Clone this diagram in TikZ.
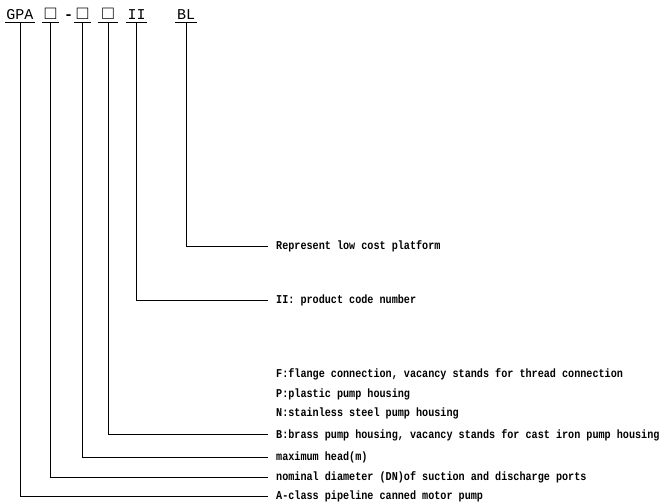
\documentclass[tikz,border=0pt]{standalone}
\usepackage{fontspec}
\newfontfamily\codefont{Liberation Mono}
\newfontfamily\descfont[FakeStretch=0.845]{Liberation Mono}
\tikzset{
  code/.style={font=\codefont\fontsize{15}{15}\selectfont, inner ysep=3pt,
    text height=9pt, text depth=0pt, anchor=center},
  blank/.style={code, font=\codefont\fontsize{19}{19}\selectfont, inner xsep=3pt},
  desc/.style={font=\descfont\bfseries\fontsize{12}{12}\selectfont, anchor=west,
    inner xsep=8pt, inner ysep=0pt, text height=7pt, text depth=0pt},
  uline/.style={line width=0.9pt},
  link/.style={line width=0.9pt}
}
\begin{document}
\begin{tikzpicture}[x=1pt,y=-1pt]
  \useasboundingbox (0,0) rectangle (666,503);
  \node[code,inner xsep=1.5pt] (gpa) at (20,15) {GPA};
  \node[blank] (dn) at (50.5,15) {□};
  \node[code,font=\codefont\bfseries\fontsize{15}{15}\selectfont] (dash) at (68.5,15) {-};
  \node[blank] (head) at (82.5,15) {□};
  \node[blank,inner xsep=4.5pt] (mat) at (108,15) {□};
  \node[code,inner xsep=1pt] (ii) at (136.5,15) {II};
  \node[code,inner xsep=2pt] (bl) at (186,15) {BL};
  \foreach \n in {gpa,dn,head,mat,ii,bl}
    \draw[uline] (\n.south west) -- (\n.south east);
  \node[desc] (blT) at (268,246) {Represent low cost platform};
  \node[desc] (iiT) at (268,300) {II: product code number};
  \node[desc] (fT) at (268,374) {F:flange connection, vacancy stands for thread connection};
  \node[desc] (pT) at (268,393.5) {P:plastic pump housing};
  \node[desc] (nT) at (268,413) {N:stainless steel pump housing};
  \node[desc] (bT) at (268,434.5) {B:brass pump housing, vacancy stands for cast iron pump housing};
  \node[desc] (headT) at (268,457) {maximum head(m)};
  \node[desc] (dnT) at (268,477) {nominal diameter (DN)of suction and discharge ports};
  \node[desc] (gpaT) at (268,496) {A-class pipeline canned motor pump};
  \draw[link] (bl.south) |- (blT.west);
  \draw[link] (ii.south) |- (iiT.west);
  \draw[link] (mat.south) |- (bT.west);
  \draw[link] (head.south) |- (headT.west);
  \draw[link] (dn.south) |- (dnT.west);
  \draw[link] (gpa.south) |- (gpaT.west);
\end{tikzpicture}
\end{document}
